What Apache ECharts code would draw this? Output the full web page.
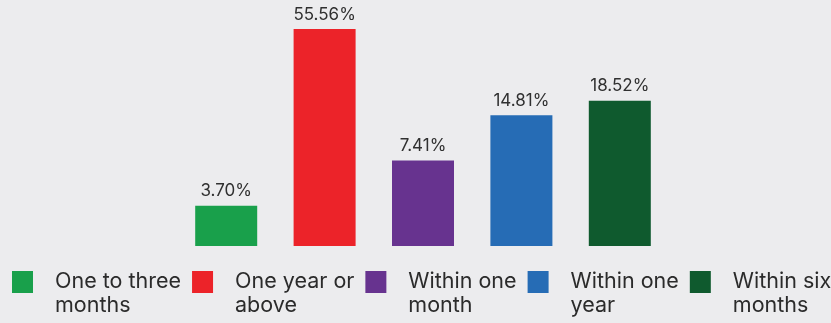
<!DOCTYPE html>
<html>
<head>
<meta charset="utf-8">
<script src="https://cdn.jsdelivr.net/npm/echarts@6/dist/echarts.min.js"></script>
<style>
  html, body { margin: 0; padding: 0; background: #ececee; }
  #chart { width: 831px; height: 323px; }
</style>
</head>
<body>
<div id="chart"></div>
<script>
// Time frames and share of responses (%)
const categories = ['One to three months', 'One year or above', 'Within one month', 'Within one year', 'Within six months'];
const shares = [3.70, 55.56, 7.41, 14.81, 18.52];
const colors = ['#19a04b', '#ec2329', '#67338f', '#266cb5', '#0f5a2e'];

const FONT = 'Inter, "Noto Sans", sans-serif';

// one series per time frame so each gets its own legend entry
const series = categories.map((name, i) => ({
  name: name,
  type: 'bar',
  barWidth: 62,
  barGap: '-100%',
  itemStyle: { color: colors[i] },
  label: {
    show: true,
    position: 'top',
    distance: 6,
    color: '#303030',
    fontFamily: FONT,
    fontSize: 17,
    formatter: p => p.value.toFixed(2) + '%'
  },
  data: categories.map((c, j) => (j === i ? shares[i] : '-'))
}));

const chart = echarts.init(document.getElementById('chart'), null, { renderer: 'canvas' });
chart.setOption({
  backgroundColor: '#ececee',
  animation: false,
  grid: { left: 177, right: 162, top: 24, bottom: 77, containLabel: false },
  xAxis: {
    type: 'category',
    data: categories,
    axisLine: { show: false },
    axisTick: { show: false },
    axisLabel: { show: false }
  },
  yAxis: {
    type: 'log',
    logBase: 10,
    min: 2,
    max: 60,
    startValue: 2,
    show: false,
    splitLine: { show: false }
  },
  legend: {
    left: 12,
    top: 246,
    width: 1000,
    padding: 0,
    itemGap: 11,
    itemWidth: 21,
    itemHeight: 22,
    icon: 'rect',
    data: categories,
    // two-line entry; the leading blank line keeps the first line level with the swatch
    formatter: name => '\n' + name.replace(/ (\S+)$/, '\n$1'),
    textStyle: {
      color: '#2b2b2b',
      fontFamily: FONT,
      fontSize: 21.5,
      lineHeight: 24,
      padding: [0, 0, 0, 17]
    }
  },
  series: series
});
</script>
</body>
</html>
